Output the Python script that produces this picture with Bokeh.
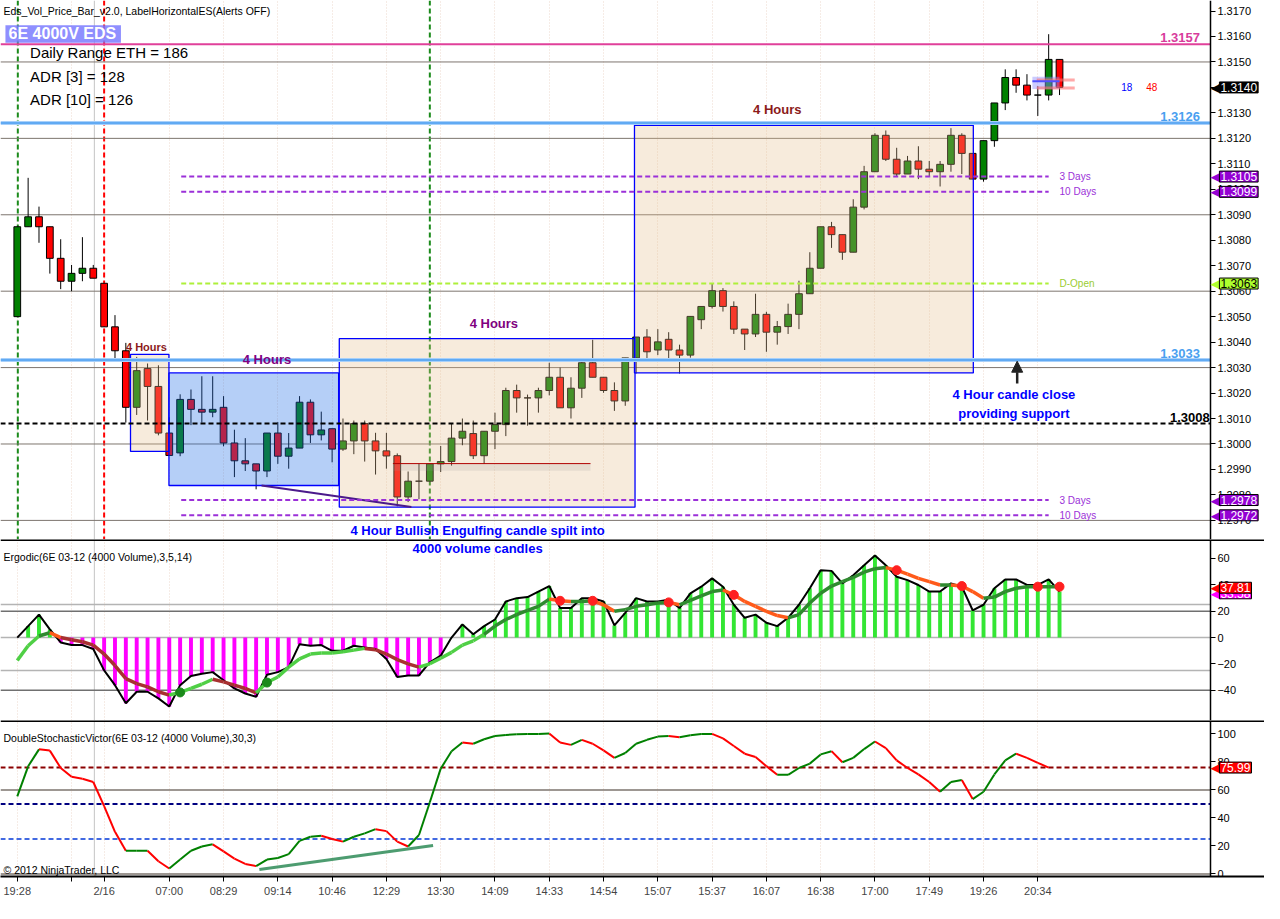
from bokeh.plotting import figure
from bokeh.layouts import column
from bokeh.models import (FixedTicker, PrintfTickFormatter, Span, Label, Arrow,
                          NormalHead, Range1d, Grid)
from bokeh.core.properties import value
from bokeh.embed import file_html
from bokeh.resources import INLINE

# ---------------- data ----------------
opens = [1.30500, 1.30853, 1.30892, 1.30853, 1.30729, 1.30639, 1.30670, 1.30690, 1.30631, 1.30460,
         1.30366, 1.30144, 1.30296, 1.30226, 1.30043, 1.29965, 1.30175, 1.30136, 1.30125, 1.30144,
         1.30004, 1.29934, 1.29922, 1.29894, 1.30043, 1.29952, 1.29984, 1.30164, 1.30036, 1.30060,
         1.29980, 1.30012, 1.30080, 1.30012, 1.29973, 1.29954, 1.29792, 1.29854, 1.29854, 1.29922,
         1.29931, 1.30023, 1.30041, 1.29954, 1.30050, 1.30076, 1.30210, 1.30181, 1.30181, 1.30210,
         1.30262, 1.30142, 1.30219, 1.30319, 1.30262, 1.30210, 1.30169, 1.30338, 1.30420, 1.30369,
         1.30411, 1.30369, 1.30349, 1.30488, 1.30540, 1.30602, 1.30540, 1.30451, 1.30432, 1.30509,
         1.30439, 1.30461, 1.30509, 1.30590, 1.30690, 1.30853, 1.30822, 1.30753, 1.30930, 1.31069,
         1.31212, 1.31118, 1.31060, 1.31111, 1.31079, 1.31069, 1.31098, 1.31212, 1.31141, 1.31040,
         1.31191, 1.31339, 1.31439, 1.31409, 1.31370, 1.31370, 1.31510]
highs = [1.30853, 1.31045, 1.30932, 1.30853, 1.30804, 1.30703, 1.30812, 1.30703, 1.30631, 1.30506,
         1.30397, 1.30342, 1.30316, 1.30309, 1.30105, 1.30195, 1.30214, 1.30266, 1.30266, 1.30188,
         1.30056, 1.30023, 1.29922, 1.30043, 1.30086, 1.30043, 1.30188, 1.30175, 1.30127, 1.30060,
         1.30100, 1.30092, 1.30092, 1.30044, 1.30044, 1.29963, 1.29892, 1.29922, 1.29922, 1.29992,
         1.30082, 1.30100, 1.30092, 1.30050, 1.30123, 1.30221, 1.30233, 1.30194, 1.30221, 1.30319,
         1.30300, 1.30262, 1.30329, 1.30409, 1.30262, 1.30242, 1.30338, 1.30420, 1.30451, 1.30451,
         1.30439, 1.30390, 1.30501, 1.30540, 1.30632, 1.30612, 1.30560, 1.30451, 1.30590, 1.30519,
         1.30483, 1.30551, 1.30641, 1.30753, 1.30853, 1.30872, 1.30822, 1.30961, 1.31092, 1.31220,
         1.31231, 1.31163, 1.31131, 1.31169, 1.31111, 1.31111, 1.31240, 1.31220, 1.31141, 1.31191,
         1.31339, 1.31471, 1.31471, 1.31452, 1.31405, 1.31609, 1.31510]
lows = [1.30500, 1.30853, 1.30790, 1.30669, 1.30608, 1.30600, 1.30639, 1.30651, 1.30460, 1.30331,
        1.30084, 1.30114, 1.30092, 1.30034, 1.29955, 1.29952, 1.30074, 1.30084, 1.30105, 1.29991,
        1.29870, 1.29894, 1.29822, 1.29870, 1.29922, 1.29903, 1.29984, 1.30004, 1.30014, 1.29928,
        1.29973, 1.29960, 1.29931, 1.29880, 1.29903, 1.29755, 1.29772, 1.29783, 1.29854, 1.29890,
        1.29915, 1.29995, 1.29941, 1.29922, 1.29980, 1.30031, 1.30123, 1.30072, 1.30123, 1.30191,
        1.30142, 1.30100, 1.30181, 1.30262, 1.30201, 1.30130, 1.30150, 1.30277, 1.30333, 1.30349,
        1.30333, 1.30277, 1.30339, 1.30451, 1.30532, 1.30520, 1.30432, 1.30369, 1.30420, 1.30362,
        1.30390, 1.30432, 1.30451, 1.30590, 1.30690, 1.30770, 1.30723, 1.30753, 1.30921, 1.31069,
        1.31111, 1.31050, 1.31060, 1.31040, 1.31050, 1.31011, 1.31069, 1.31060, 1.31040, 1.31030,
        1.31167, 1.31311, 1.31379, 1.31349, 1.31288, 1.31349, 1.31370]
closes = [1.30853, 1.30892, 1.30853, 1.30729, 1.30639, 1.30670, 1.30690, 1.30651, 1.30460, 1.30366,
          1.30144, 1.30288, 1.30226, 1.30043, 1.29955, 1.30175, 1.30136, 1.30125, 1.30136, 1.30004,
          1.29934, 1.29922, 1.29894, 1.30043, 1.29952, 1.29984, 1.30164, 1.30036, 1.30055, 1.29980,
          1.30012, 1.30080, 1.30012, 1.29973, 1.29953, 1.29792, 1.29854, 1.29854, 1.29922, 1.29931,
          1.30023, 1.30050, 1.29954, 1.30050, 1.30076, 1.30210, 1.30181, 1.30181, 1.30210, 1.30262,
          1.30142, 1.30219, 1.30319, 1.30262, 1.30210, 1.30169, 1.30338, 1.30420, 1.30362, 1.30401,
          1.30369, 1.30349, 1.30501, 1.30540, 1.30602, 1.30540, 1.30451, 1.30432, 1.30509, 1.30439,
          1.30461, 1.30509, 1.30590, 1.30690, 1.30853, 1.30822, 1.30753, 1.30930, 1.31069, 1.31212,
          1.31118, 1.31060, 1.31111, 1.31079, 1.31069, 1.31098, 1.31212, 1.31141, 1.31040, 1.31191,
          1.31339, 1.31439, 1.31409, 1.31370, 1.31370, 1.31510, 1.31400]

erg_main = [0, 8.7, 17.4, 6.2, -3.7, -5.7, -5.7, -8.7, -24.9, -36.1,
            -49.8, -41.1, -41.1, -46.1, -52.3, -36.1, -29.2, -27.4, -26.2, -32.4,
            -38.6, -42.4, -44.9, -28.2, -26.2, -22.4, -5.0, -6.2, -5.7, -10.0,
            -10.0, -6.2, -7.5, -8.7, -16.2, -29.9, -28.7, -28.7, -18.7, -13.7,
            0, 10.0, 2.5, 8.7, 13.7, 27.4, 29.9, 30.7, 34.9, 39.1,
            22.4, 22.4, 29.9, 29.9, 27.4, 9.2, 18.7, 29.9, 27.4, 27.4,
            28.7, 22.4, 33.6, 38.6, 44.9, 38.6, 24.9, 15.0, 17.4, 11.2,
            8.7, 15.0, 24.9, 37.4, 51.1, 50.6, 41.1, 47.3, 54.8, 62.3,
            54.8, 46.1, 43.6, 39.9, 34.9, 34.9, 41.1, 38.6, 20.7, 24.9,
            37.4, 44.1, 44.1, 39.9, 39.9, 44.1, 34.9]
erg_signal = [-17.4, -6.2, 1.2, 3.7, 0, -1.7, -3.2, -5.7, -12.5, -21.2,
              -31.1, -34.9, -37.4, -41.1, -43.6, -41.6, -38.6, -35.4, -31.6, -33.6,
              -36.1, -38.6, -41.9, -34.1, -29.9, -22.4, -16.2, -12.5, -11.7, -11.7,
              -10.7, -9.5, -8.2, -9.2, -12.5, -16.7, -19.9, -22.4, -19.9, -15.7,
              -11.2, -5.7, -2.5, 2.5, 8.7, 13.7, 17.4, 20.7, 23.7, 29.2,
              27.9, 27.4, 27.4, 27.9, 24.9, 19.9, 21.2, 23.7, 24.9, 26.2,
              26.7, 24.9, 28.2, 31.6, 34.9, 36.1, 32.4, 27.4, 23.7, 19.9,
              16.7, 15.0, 17.4, 26.2, 33.6, 39.1, 42.4, 45.6, 49.6, 52.3,
              53.1, 51.1, 48.1, 44.9, 42.4, 39.9, 39.9, 39.1, 34.9, 29.9,
              30.7, 34.9, 37.4, 38.6, 38.6, 38.6, 38.6]
erg_red_dots = [50, 53, 60, 66, 81, 87, 94, 96]
erg_green_dots = [15, 23]

stoch = [55.4, 76.9, 89.0, 88.1, 75.7, 69.4, 68.0, 65.7, 48.4, 30.1,
         16.6, 16.6, 16.6, 9.1, 3.9, 10.3, 16.6, 19.6, 21.2, 16.1,
         11.0, 7.2, 5.6, 10.3, 11.4, 14.2, 23.6, 26.6, 27.3, 25.0,
         23.1, 26.6, 29.0, 32.0, 30.6, 23.1, 19.6, 27.8, 51.2, 75.2,
         87.6, 93.9, 93.0, 96.2, 98.5, 99.3, 99.7, 100.0, 100.0, 100.3,
         93.9, 92.2, 95.8, 93.0, 88.3, 82.9, 86.4, 93.0, 95.8, 98.1,
         98.6, 97.6, 99.0, 100.0, 100.0, 96.8, 91.4, 85.9, 83.5, 77.0,
         70.8, 70.8, 75.7, 78.8, 85.4, 87.7, 79.8, 82.9, 89.2, 94.6,
         89.9, 81.1, 75.7, 71.1, 65.7, 58.7, 65.7, 67.1, 53.5, 58.7,
         71.1, 81.1, 85.9, 82.9, 79.4, 75.99]

tick_bars = [0, 5, 8, 14, 19, 24, 29, 34, 39, 44, 49, 54, 59, 64, 69, 74, 79, 84, 89, 94]
tick_labels = ["19:28", "", "2/16", "07:00", "08:29", "09:14", "10:46", "12:29", "13:30", "14:09",
               "14:33", "14:54", "15:07", "15:37", "16:07", "16:38", "17:00", "17:49", "19:26", "20:34"]
price_ticks = [1.2970, 1.2980, 1.2990, 1.3000, 1.3010, 1.3020, 1.3030, 1.3040, 1.3050, 1.3060,
               1.3070, 1.3080, 1.3090, 1.3100, 1.3110, 1.3120, 1.3130, 1.3140, 1.3150, 1.3160, 1.3170]
price_grid = [1.2970, 1.3000, 1.3030, 1.3060, 1.3090, 1.3120, 1.3150]
erg_ticks = [-40, -20, 0, 20, 40, 60]
stoch_ticks = [0, 20, 40, 60, 80, 100]

# 4-hour boxes: left bar, right bar, bottom price, top price
box_left = [10.43, 13.97, 29.66, 56.85]
box_right = [13.97, 29.6, 56.9, 88.06]
box_bottom = [1.29971, 1.29837, 1.29752, 1.30279]
box_top = [1.30352, 1.30279, 1.30414, 1.31251]

# levels
level_magenta = 1.3157
level_blue = [1.3126, 1.3033]
level_black = 1.3008
level_days = [1.3105, 1.3099, 1.2978, 1.2972]
day_names = ["3 Days", "10 Days", "3 Days", "10 Days"]
level_dopen = 1.3063
last_price = 1.3140
erg_tag_values = [33.58, 37.81]
stoch_tag_value = 75.99
stoch_levels = [76, 50, 25]

FONT = "Liberation Sans"
idx = list(range(len(closes)))

X0 = -1.545          # left edge of the chart area (bar units)
AXIS_X = 109.9       # where the price scale sits
X1 = 114.88          # right edge of the page area
xr = Range1d(X0, X1)


def make_fig(frame_h, y0, y1, with_x=False, top_rule=False):
    p = figure(frame_width=1264, frame_height=frame_h, x_range=xr, y_range=Range1d(y0, y1),
               output_backend="svg", toolbar_location=None,
               x_axis_location="below" if with_x else None, y_axis_location="right",
               min_border_left=0, min_border_right=0, min_border_top=0,
               min_border_bottom=27 if with_x else 0,
               background_fill_color="white", border_fill_color="white",
               outline_line_color=None)
    p.xgrid.visible = False
    p.ygrid.visible = False
    p.add_layout(Grid(dimension=0, ticker=FixedTicker(ticks=tick_bars),
                      grid_line_color="#ecd9cc", grid_line_dash="1 2", grid_line_width=1))
    p.add_layout(Span(location=7.1, dimension="height", line_color="#c4c4c4",
                      line_width=1, level="underlay"))
    if top_rule:
        p.add_layout(Span(location=y1, dimension="width", line_color="black", line_width=3))
    ax = p.yaxis[0]
    ax.fixed_location = AXIS_X
    ax.major_label_text_font = FONT
    ax.major_label_text_font_size = "11px"
    ax.major_label_text_color = "black"
    ax.major_tick_in = 0
    ax.major_tick_out = 5
    ax.minor_tick_out = 0
    ax.minor_tick_in = 0
    ax.major_label_standoff = 2
    ax.axis_line_color = "black"
    ax.axis_line_width = 1.5
    if with_x:
        xa = p.xaxis[0]
        xa.ticker = FixedTicker(ticks=tick_bars)
        xa.major_label_overrides = {b: t for b, t in zip(tick_bars, tick_labels)}
        xa.major_label_text_font = FONT
        xa.major_label_text_font_size = "11px"
        xa.major_tick_in = 0
        xa.major_tick_out = 5
        xa.minor_tick_out = 0
        xa.major_label_standoff = 3
        xa.axis_line_color = "black"
        xa.axis_line_width = 2
    return p


def hline(p, ys, color, width=1.0, dash="solid", x0=X0, x1=AXIS_X, alpha=1.0):
    p.segment(x0=[x0] * len(ys), y0=ys, x1=[x1] * len(ys), y1=ys, line_color=color,
              line_width=width, line_dash=dash, line_alpha=alpha)


def txt(p, x, y, s, color="black", size="11px", style="normal", align="left",
        baseline="middle", font=FONT):
    p.text(x=[x], y=[y], text=[s], text_color=color, text_font=value(font),
           text_font_size=size, text_font_style=style, text_align=align,
           text_baseline=baseline)


def tag(p, y, s, bg, fg):
    p.add_layout(Label(x=AXIS_X, y=y, text="\u25c0", text_align="left", text_baseline="middle",
                       text_font="DejaVu Sans", text_font_size="13px", text_color=bg,
                       x_offset=0))
    p.add_layout(Label(x=AXIS_X, y=y, text=s, text_align="left", text_baseline="middle",
                       text_font=FONT, text_font_size="12px", text_color=fg,
                       background_fill_color=bg, border_line_color="black",
                       x_offset=9, padding=1))


# ---------------- price panel ----------------
p1 = make_fig(539, 1.29625, 1.317413)
p1.yaxis[0].ticker = FixedTicker(ticks=price_ticks)
p1.yaxis[0].formatter = PrintfTickFormatter(format="%.4f")
hline(p1, price_grid, "#7d756e", 1)

for loc, col in [(0.05, "#1a8a1a"), (38, "#1a8a1a"), (8, "#ff0000")]:
    p1.add_layout(Span(location=loc, dimension="height", line_color=col, line_width=2,
                       line_dash="5 3", level="underlay"))

body_top = [max(o, c) for o, c in zip(opens, closes)]
body_bot = [min(o, c) for o, c in zip(opens, closes)]
body_col = ["#008000" if c > o else ("#ff0000" if c < o else "black") for o, c in zip(opens, closes)]
p1.segment(x0=idx, y0=lows, x1=idx, y1=highs, line_color="black", line_width=1)
p1.vbar(x=idx, width=0.62, top=body_top, bottom=body_bot, fill_color=body_col,
        line_color="black", line_width=1)

box_fill = ["#e6be8c", "#1e6ee6", "#e6be8c", "#e6be8c"]
box_alpha = [0.3, 0.33, 0.3, 0.3]
p1.quad(left=box_left, right=box_right, bottom=box_bottom, top=box_top,
        fill_color=box_fill, fill_alpha=box_alpha, line_color="#0000ff", line_width=1.3)

# red support line with shadow
p1.quad(left=[34.6], right=[52.8], bottom=[1.29923 - 0.00028], top=[1.29923],
        fill_color="#9a9a9a", fill_alpha=0.18, line_color=None)
p1.segment(x0=[34.6], y0=[1.29923], x1=[52.8], y1=[1.29923], line_color="#b00000", line_width=1)
# indigo divergence line
p1.line([22.5, 36.3], [1.29837, 1.29753], line_color="#4b1a8b", line_width=2)

# levels
hline(p1, [level_magenta], "#e0409a", 2)
hline(p1, level_blue, "#a8d0fa", 4)
hline(p1, level_blue, "#4a9ef0", 1.5)
hline(p1, [level_black], "black", 2, "5 3")
hline(p1, level_days, "#9b30d8", 2, "5 3", 15.1, 95.0)
hline(p1, [level_dopen], "#aef03a", 2, "5 3", 15.1, 95.0)
for lv, nm in zip(level_days, day_names):
    txt(p1, 96.0, lv, nm, color="#9b30d8", size="10px")
txt(p1, 96.0, level_dopen, "D-Open", color="#9acd32", size="10px")

txt(p1, 107.1, level_magenta + 0.00026, "1.3157", color="#d83c9c", size="13px", style="bold", align="center")
for lv in level_blue:
    txt(p1, 107.1, lv + 0.00026, "%.4f" % lv, color="#4aa0f0", size="13px", style="bold", align="center")
txt(p1, 108.0, level_black + 0.00024, "1.3008", color="black", size="13px", style="bold", align="center")

# last candles overlay marks
p1.quad(left=[93.5], right=[96.0], bottom=[1.31394], top=[1.31442],
        fill_color="#8c8cff", fill_alpha=0.45, line_color=None)
p1.segment(x0=[93.9, 93.9], y0=[1.31429, 1.31398], x1=[97.4, 97.4], y1=[1.31429, 1.31398],
           line_color="#ff7070", line_alpha=0.6, line_width=3)
p1.segment(x0=[93.5], y0=[1.31424], x1=[96.0], y1=[1.31424], line_color="#5050ff", line_width=2)
txt(p1, 102.2, last_price, "18", color="#0000ff", size="10px", align="center")
txt(p1, 104.5, last_price, "48", color="#ff0000", size="10px", align="center")

# 4 hour labels
txt(p1, 11.9, 1.30380, "4 Hours", color="#8b1a1a", size="11px", style="bold", align="center")
txt(p1, 23.0, 1.30330, "4 Hours", color="#800080", size="13px", style="bold", align="center")
txt(p1, 43.9, 1.30473, "4 Hours", color="#800080", size="13px", style="bold", align="center")
txt(p1, 70.0, 1.31313, "4 Hours", color="#8b1a1a", size="13px", style="bold", align="center")

txt(p1, 42.4, 1.29660, "4 Hour Bullish Engulfing candle spilt into", color="#0000ff",
    size="13px", style="bold", align="center")
txt(p1, 91.8, 1.30195, "4 Hour candle close", color="#0000ff", size="13px", style="bold", align="center")
txt(p1, 91.8, 1.30118, "providing support", color="#0000ff", size="13px", style="bold", align="center")
p1.add_layout(Arrow(end=NormalHead(size=11, fill_color="#222222", line_color="#222222"),
                    x_start=92.1, y_start=1.30238, x_end=92.1, y_end=1.30325,
                    line_color="#222222", line_width=2.5))

# top-left texts
txt(p1, -1.27, 1.31699, "Eds_Vol_Price_Bar_v2.0, LabelHorizontalES(Alerts OFF)", size="10.5px")
p1.rect(x=[4.23], y=[1.31610], width=10.64, height=0.00069, fill_color="#7b7bff",
        fill_alpha=0.85, line_color=None)
txt(p1, -0.8, 1.31610, "6E 4000V EDS", color="white", size="16px", style="bold")
txt(p1, 1.18, 1.31537, "Daily Range ETH = 186", size="15px")
txt(p1, 1.18, 1.31444, "ADR [3] = 128", size="15px")
txt(p1, 1.18, 1.31352, "ADR [10] = 126", size="15px")

tag(p1, last_price, "1.3140", "black", "white")
tag(p1, level_days[0], "1.3105", "#9400d3", "white")
tag(p1, level_days[1], "1.3099", "#9400d3", "white")
tag(p1, level_dopen, "1.3063", "#adff2f", "black")
tag(p1, level_days[2], "1.2978", "#9400d3", "white")
tag(p1, level_days[3], "1.2972", "#9400d3", "white")

# ---------------- ergodic panel ----------------
p2 = make_fig(181, -62.9, 74.4, top_rule=True)
p2.yaxis[0].ticker = FixedTicker(ticks=erg_ticks)
hline(p2, [25, 0, -25], "#b4b4b4", 1.5)
hline(p2, [20, -40], "#707070", 1.5)
hist_col = ["#33e633" if v >= 0 else "#ff00ff" for v in erg_main]
p2.vbar(x=idx, width=0.36, top=erg_main, bottom=0, fill_color=hist_col, line_color=None)
p2.line(idx, erg_main, line_color="black", line_width=2)
sx0, sy0, sx1, sy1, scol = [], [], [], [], []
for i in range(len(erg_signal) - 1):
    a, b = erg_signal[i], erg_signal[i + 1]
    mid = (a + b) / 2
    if b >= a:
        c = "#2f8a2f" if mid > 0 else "#4fcf45"
    else:
        c = "#ff5a1a" if mid > 0 else "#a83030"
    sx0.append(i); sy0.append(a); sx1.append(i + 1); sy1.append(b); scol.append(c)
p2.segment(x0=sx0, y0=sy0, x1=sx1, y1=sy1, line_color=scol, line_width=3.5)
p2.scatter(x=erg_red_dots, y=[erg_signal[i] for i in erg_red_dots], size=9,
           fill_color="#ff2020", line_color="#ff2020")
p2.scatter(x=erg_green_dots, y=[erg_signal[i] for i in erg_green_dots], size=9,
           fill_color="#1a8a1a", line_color="#1a8a1a")
txt(p2, -1.27, 61.0, "Ergodic(6E 03-12 (4000 Volume),3,5,14)", size="10.5px")
txt(p2, 42.4, 67.7, "4000 volume candles", color="#0000ff", size="13px", style="bold", align="center")
tag(p2, erg_tag_values[0], "33.58", "#ff00ff", "white")
tag(p2, erg_tag_values[1], "37.81", "#ff0000", "white")

# ---------------- stochastic panel ----------------
p3 = make_fig(156, -1.8, 109.6, with_x=True, top_rule=True)
p3.yaxis[0].ticker = FixedTicker(ticks=stoch_ticks)
hline(p3, [60, 0], "#7d756e", 1.5)
for lv, col in zip(stoch_levels, ["#8b0000", "#000080", "#4169e1"]):
    hline(p3, [lv], col, 2, "5 3")
tx0, ty0, tx1, ty1, tcol = [], [], [], [], []
for i in range(len(stoch) - 1):
    a, b = stoch[i], stoch[i + 1]
    tx0.append(i); ty0.append(a); tx1.append(i + 1); ty1.append(b)
    tcol.append("#008000" if b >= a else "#ff0000")
p3.segment(x0=tx0, y0=ty0, x1=tx1, y1=ty1, line_color=tcol, line_width=2)
p3.line([22.3, 38.3], [3.2, 20.3], line_color="#2e8b57", line_width=3, line_alpha=0.85)
txt(p3, -1.27, 97.0, "DoubleStochasticVictor(6E 03-12 (4000 Volume),30,3)", size="10.5px")
txt(p3, -1.27, 2.6, "\u00a9 2012 NinjaTrader, LLC", size="10.5px")
tag(p3, stoch_tag_value, "75.99", "#ff0000", "white")

layout = column(p1, p2, p3, spacing=0)
open("out.html", "w").write(file_html(layout, INLINE))
